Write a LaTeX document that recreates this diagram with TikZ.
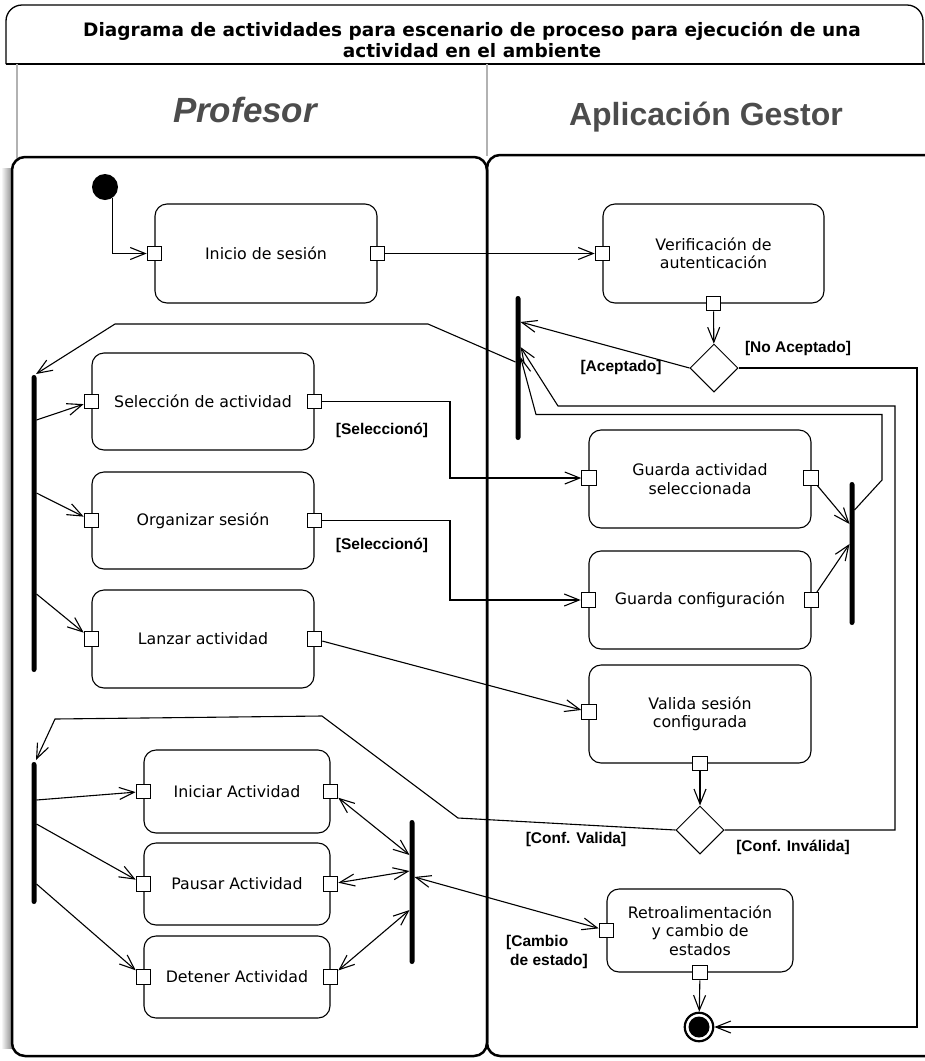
\documentclass[tikz,border=0pt]{standalone}
\usepackage{fontspec}
\setmainfont{DejaVu Sans}
\newfontfamily\guardfont{Liberation Sans}
\usetikzlibrary{arrows.meta,shapes.geometric}
\begin{document}
\begin{tikzpicture}[x=1pt,y=-1pt,
  act/.style={draw, line width=1.1pt, rounded corners=12pt, align=center,
    font=\fontsize{15.8}{18.3}\selectfont, inner sep=0pt},
  bigact/.style={act, minimum width=222pt, minimum height=98pt},
  smallact/.style={act, minimum width=186pt, minimum height=83pt},
  port/.style={draw, fill=white, line width=1pt, minimum size=14.5pt, inner sep=0pt},
  syncbar/.style={fill=black, rounded corners=2.5pt, minimum width=5pt, inner sep=0pt},
  decision/.style={diamond, draw, line width=1pt, minimum width=48pt, minimum height=48pt, inner sep=0pt},
  flow/.style={line width=1.1pt, -{Straight Barb[length=15pt,width=12pt]}},
  biflow/.style={line width=1.1pt, {Straight Barb[length=15pt,width=12pt]}-{Straight Barb[length=15pt,width=12pt]}},
  guard/.style={font=\guardfont\bfseries\fontsize{15.5}{19}\selectfont, inner sep=0pt, align=left},
  partition/.style={draw, line width=2.5pt, rounded corners=13pt},
  lanehead/.style={text=black!70, inner sep=0pt},
]
\useasboundingbox (0,0) rectangle (925,1061);

% soft shadow left of the teacher partition
\shade[left color=white, right color=black!45] (1,168) rectangle (12,1048);

% diagram frame with its title
\draw[line width=1.3pt, rounded corners=16pt] (6,64) -- (6,5) -- (923,5) -- (923,64);
\draw[line width=1.3pt] (6,64) -- (925,64);
\node[font=\bfseries\fontsize{18.5}{21}\selectfont, align=center] (title) at (472,40)
  {Diagrama de actividades para escenario de proceso para ejecución de una\\actividad en el ambiente};

% swimlane headers
\draw[black!30, line width=2pt] (17,64) -- (17,160);
\draw[black!30, line width=2pt] (487,64) -- (487,156);
\node[lanehead, font=\guardfont\bfseries\itshape\fontsize{35}{40}\selectfont] (laneP) at (245,110) {Profesor};
\node[lanehead, font=\guardfont\bfseries\fontsize{32}{36}\selectfont] (laneA) at (706,117) {Aplicación Gestor};

% swimlane partitions
\draw[partition] (12,157) rectangle (487,1056);
\draw[partition] (487,155) rectangle (945,1056);

% ---- Profesor lane ----
\node[circle, fill=black, minimum size=26pt, inner sep=0pt] (start) at (105,187) {};
\node[bigact, minimum height=99pt] (inicio) at (266,253.5) {Inicio de sesión};
\node[bigact, minimum height=97pt] (sel) at (203,401.5) {Selección de actividad};
\node[bigact, minimum height=97pt] (org) at (203,520.5) {Organizar sesión};
\node[bigact] (lan) at (203,639) {Lanzar actividad};
\node[smallact] (ini) at (237,791.5) {Iniciar Actividad};
\node[smallact, minimum height=82pt] (pau) at (237,884) {Pausar Actividad};
\node[smallact, minimum height=82pt] (det) at (237,977) {Detener Actividad};

\node[syncbar, minimum height=297pt] (barL1) at (34,523.5) {};
\node[syncbar, minimum height=142pt] (barL2) at (34,833) {};
\node[syncbar, minimum height=144pt] (barM) at (412,892) {};

% ---- Aplicación Gestor lane ----
\node[bigact, minimum width=221pt, minimum height=99pt] (verif) at (713.5,253.5) {Verificación de\\autenticación};
\node[decision] (dec1) at (714,368) {};
\node[bigact] (gact) at (700,479) {Guarda actividad\\seleccionada};
\node[bigact] (gconf) at (700,600) {Guarda configuración};
\node[bigact] (val) at (700,714) {Valida sesión\\configurada};
\node[decision] (dec2) at (700,830) {};
\node[smallact] (retro) at (700,930.5) {Retroalimentación\\y cambio de\\estados};
\node[circle, draw, line width=2.2pt, minimum size=28.5pt, inner sep=0pt] (final) at (699,1027) {};
\fill (final.center) circle (10.5pt);

\node[syncbar, minimum height=144pt] (barA) at (518,368) {};
\node[syncbar, minimum height=143pt] (barJ) at (852,553.5) {};

% pins
\node[port] (inicioL) at (inicio.west) {};
\node[port] (inicioR) at (inicio.east) {};
\node[port] (selL) at (sel.west) {};
\node[port] (selR) at (sel.east) {};
\node[port] (orgL) at (org.west) {};
\node[port] (orgR) at (org.east) {};
\node[port] (lanL) at (lan.west) {};
\node[port] (lanR) at (lan.east) {};
\node[port] (iniL) at (ini.west) {};
\node[port] (iniR) at (ini.east) {};
\node[port] (pauL) at (pau.west) {};
\node[port] (pauR) at (pau.east) {};
\node[port] (detL) at (det.west) {};
\node[port] (detR) at (det.east) {};
\node[port] (verifL) at (verif.west) {};
\node[port] (verifB) at (verif.south) {};
\node[port] (gactL) at (589,478) {};
\node[port] (gactR) at (811,478) {};
\node[port] (gconfL) at (gconf.west) {};
\node[port] (gconfR) at (gconf.east) {};
\node[port] (valL) at (589,712) {};
\node[port] (valB) at (val.south) {};
\node[port] (retroL) at (retro.west) {};
\node[port] (retroB) at (retro.south) {};

% attachment points on bars and bends
\coordinate (aIn1) at (520.5,322);
\coordinate (aIn2) at (520.5,347);
\coordinate (aIn3) at (520.5,357);
\coordinate (aOut) at (515.5,362);
\coordinate (t1) at (428,324);
\coordinate (t2) at (115,324);
\coordinate (l1In) at (36,374);
\coordinate (l1o1) at (36.5,420);
\coordinate (l1o2) at (36.5,493);
\coordinate (l1o3) at (36.5,594);
\coordinate (s1) at (450,440);
\coordinate (s2) at (450,560);
\coordinate (jIn1) at (849.5,524);
\coordinate (jIn2) at (849.5,544);
\coordinate (jOut) at (854.5,510);
\coordinate (u1) at (882,480);
\coordinate (u2) at (882,414.5);
\coordinate (u3) at (536,414.5);
\coordinate (v1) at (895,406);
\coordinate (v2) at (558,406);
\coordinate (noAcc) at (917,1027);
\coordinate (w1) at (458,818);
\coordinate (w2) at (322,716);
\coordinate (w3) at (55,719);
\coordinate (l2In) at (36,760);
\coordinate (l2o1) at (36.5,800);
\coordinate (l2o2) at (36.5,824);
\coordinate (l2o3) at (36.5,884);
\coordinate (m1) at (409.5,855);
\coordinate (m2) at (409.5,871);
\coordinate (m3) at (409.5,910);
\coordinate (m4) at (414.5,877);

% control flows
\draw[flow] (start.-55) |- (inicioL);
\draw[flow] (inicioR) -- (verifL);
\draw[flow] (verifB) -- (dec1);
\draw[flow] (dec1.west) -- (aIn1);
\draw[flow] (dec1.east) -| (noAcc) -- (final);
\draw[flow] (aOut) -- (t1) -- (t2) -- (l1In);
\draw[flow] (l1o1) -- (selL);
\draw[flow] (l1o2) -- (orgL);
\draw[flow] (l1o3) -- (lanL);
\draw[flow] (selR) -| (s1) |- (gactL);
\draw[flow] (orgR) -| (s2) |- (gconfL);
\draw[flow] (lanR) -- (valL);
\draw[flow] (gactR) -- (jIn1);
\draw[flow] (gconfR) -- (jIn2);
\draw[flow] (jOut) -- (u1) -- (u2) -- (u3) -- (aIn3);
\draw[flow] (valB) -- (dec2);
\draw[flow] (dec2.east) -| (v1) -- (v2) -- (aIn2);
\draw[flow] (dec2.west) -- (w1) -- (w2) -- (w3) -- (l2In);
\draw[flow] (l2o1) -- (iniL);
\draw[flow] (l2o2) -- (pauL);
\draw[flow] (l2o3) -- (detL);
\draw[biflow] (iniR) -- (m1);
\draw[biflow] (pauR) -- (m2);
\draw[biflow] (detR) -- (m3);
\draw[biflow] (m4) -- (retroL);
\draw[flow] (retroB) -- (final);

% guards
\node[guard] (gSel1) at (382,430) {[Seleccionó]};
\node[guard] (gSel2) at (382,545) {[Seleccionó]};
\node[guard] (gAcc) at (621,367) {[Aceptado]};
\node[guard] (gNoAcc) at (798,348) {[No Aceptado]};
\node[guard] (gVal) at (576,839) {[Conf. Valida]};
\node[guard] (gInv) at (793,847) {[Conf. Inválida]};
\node[guard] (gCamb) at (547,952) {[Cambio\\\hspace*{4pt}de estado]};
\end{tikzpicture}
\end{document}
